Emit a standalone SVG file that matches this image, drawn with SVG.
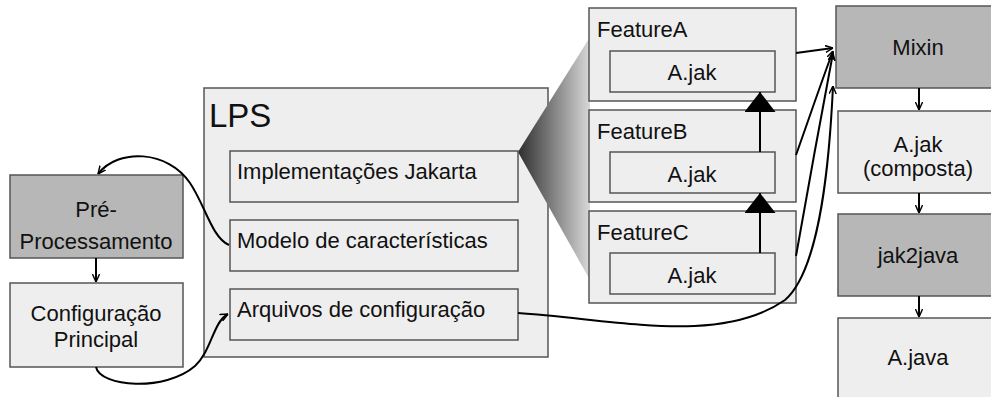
<svg xmlns="http://www.w3.org/2000/svg" width="991" height="397" viewBox="0 0 991 397">
<style>
  .lt { fill: #eeeeee; stroke: #555555; stroke-width: 1.5; }
  .dk { fill: #b7b7b7; stroke: #555555; stroke-width: 1.5; }
  text { font-family: "Liberation Sans", Arial, sans-serif; font-size: 22px; fill: #111111; }
  .c { text-anchor: middle; }
  .con { fill: none; stroke: #000000; stroke-width: 2; }
</style>
<defs>
  <marker id="arr" viewBox="0 0 10 10" refX="10" refY="5" markerWidth="8" markerHeight="8" markerUnits="userSpaceOnUse" orient="auto">
    <path d="M0,0.5 L10,5 L0,9.5" fill="none" stroke="#000" stroke-width="1.8"/>
  </marker>
  <marker id="tri" viewBox="0 0 20 31" refX="20" refY="15.5" markerWidth="20" markerHeight="31" markerUnits="userSpaceOnUse" orient="auto">
    <path d="M0,0 L20,15.5 L0,31 Z" fill="#000"/>
  </marker>
  <linearGradient id="g" x1="0" y1="0" x2="1" y2="0">
    <stop offset="0" stop-color="#2e2e2e"/>
    <stop offset="1" stop-color="#d8d8d8"/>
  </linearGradient>
</defs>

<g id="pre">
  <rect class="dk" x="10" y="175" width="173" height="83"/>
  <text class="c" x="96" y="217">Pré-</text>
  <text class="c" x="96" y="249">Processamento</text>
</g>
<g id="config">
  <rect class="lt" x="10" y="283" width="173" height="84"/>
  <text class="c" x="96" y="321">Configuração</text>
  <text class="c" x="96" y="347">Principal</text>
</g>

<g id="lps">
  <rect class="lt" x="204" y="88" width="344" height="269"/>
  <text x="209" y="127" style="font-size:33px">LPS</text>
</g>
<g id="zoom-wedge">
  <polygon points="518,152 590,37 590,280" fill="url(#g)"/>
</g>
<g id="impl">
  <rect class="lt" x="230" y="151" width="288" height="51"/>
  <text x="237" y="179">Implementações Jakarta</text>
</g>
<g id="modelo">
  <rect class="lt" x="230" y="220" width="288" height="51"/>
  <text x="237" y="248">Modelo de características</text>
</g>
<g id="arquivos">
  <rect class="lt" x="230" y="289" width="288" height="51"/>
  <text x="237" y="317">Arquivos de configuração</text>
</g>

<g id="featureA">
  <rect class="lt" x="589" y="8" width="207" height="93"/>
  <text x="597" y="37">FeatureA</text>
  <rect class="lt" x="610" y="51" width="165" height="41"/>
  <text class="c" x="692" y="80">A.jak</text>
</g>
<g id="featureB">
  <rect class="lt" x="589" y="110" width="207" height="92"/>
  <text x="597" y="139">FeatureB</text>
  <rect class="lt" x="610" y="152" width="165" height="41"/>
  <text class="c" x="692" y="182">A.jak</text>
</g>
<g id="featureC">
  <rect class="lt" x="589" y="211" width="207" height="92"/>
  <text x="597" y="240">FeatureC</text>
  <rect class="lt" x="610" y="253" width="165" height="41"/>
  <text class="c" x="692" y="283">A.jak</text>
</g>

<g id="mixin">
  <rect class="dk" x="836" y="6" width="166" height="82"/>
  <text class="c" x="918" y="55">Mixin</text>
</g>
<g id="composta">
  <rect class="lt" x="838" y="111" width="164" height="82"/>
  <text class="c" x="918" y="152">A.jak</text>
  <text class="c" x="918" y="176">(composta)</text>
</g>
<g id="jak2java">
  <rect class="dk" x="838" y="214" width="164" height="82"/>
  <text class="c" x="918" y="263">jak2java</text>
</g>
<g id="ajava">
  <rect class="lt" x="838" y="318" width="164" height="90"/>
  <text class="c" x="918" y="365">A.java</text>
</g>

<g id="connectors">
  <path class="con" d="M96,258 L96,282" marker-end="url(#arr)"/>
  <path class="con" d="M229,245 C212,238 205,205 190,183 C168,150 118,148 98,174" marker-end="url(#arr)"/>
  <path class="con" d="M96,367 C100,387 165,392 195,366 C212,350 213,322 228,314" marker-end="url(#arr)"/>
  <path class="con" d="M760,253 L760,193" marker-end="url(#tri)"/>
  <path class="con" d="M760,152 L760,92" marker-end="url(#tri)"/>
  <path class="con" d="M796,53 L833,48" marker-end="url(#arr)"/>
  <path class="con" d="M796,155 C805,130 822,80 833,51" marker-end="url(#arr)"/>
  <path class="con" d="M796,256 C806,200 822,110 833,53" marker-end="url(#arr)"/>
  <path class="con" d="M518,313 C620,320 720,345 785,300 C822,268 830,150 833,86" marker-end="url(#arr)"/>
  <path class="con" d="M919,88 L919,110" marker-end="url(#arr)"/>
  <path class="con" d="M919,193 L919,213" marker-end="url(#arr)"/>
  <path class="con" d="M919,296 L919,317" marker-end="url(#arr)"/>
</g>
</svg>
